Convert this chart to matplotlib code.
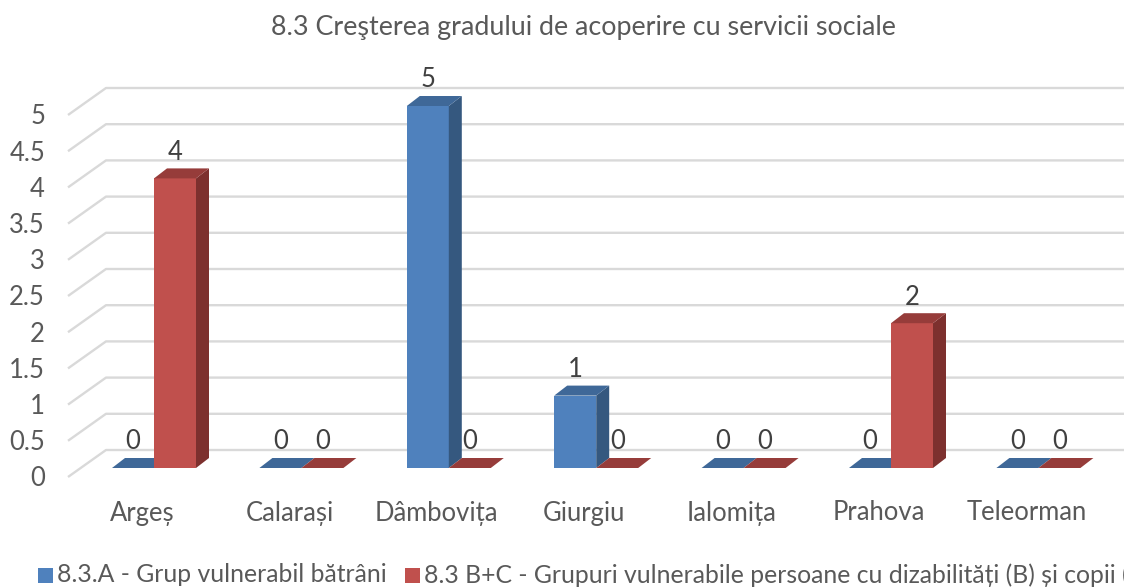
import matplotlib
matplotlib.use("Agg")
import matplotlib.pyplot as plt
from matplotlib.patches import Polygon, Rectangle

# ---------------- data ----------------
categories = ["Argeș", "Calarași", "Dâmbovița", "Giurgiu", "Ialomița", "Prahova", "Teleorman"]
series_a = [0, 0, 5, 1, 0, 0, 0]
series_bc = [4, 0, 0, 0, 0, 2, 0]
series_names = ["8.3.A - Grup vulnerabil bătrâni",
                "8.3 B+C - Grupuri vulnerabile persoane cu dizabilități (B) și copii (C)"]
yticks = [0, 0.5, 1, 1.5, 2, 2.5, 3, 3.5, 4, 4.5, 5]
ytick_labels = ["0", "0.5", "1", "1.5", "2", "2.5", "3", "3.5", "4", "4.5", "5"]
title = "8.3 Creşterea gradului de acoperire cu servicii sociale"

# ---------------- style ----------------
plt.rcParams['font.family'] = ['Lato', 'DejaVu Sans']
TXT = "#595959"
GRID = "#D9D9D9"
colors_front = ["#4F81BD", "#C0504D"]
colors_top = ["#3F6898", "#963C3A"]
colors_side = ["#35587F", "#7D302E"]

W, H = 1124, 588
fig = plt.figure(figsize=(W / 100, H / 100), dpi=100)
ax = fig.add_axes([0, 0, 1, 1])

# pixel-calibrated scales
X_ORG, X_STEP = 154, 147.4
Y_ORG, Y_STEP = 468, 72.4
ax.set_xlim((0 - X_ORG) / X_STEP, (W - X_ORG) / X_STEP)
ax.set_ylim((Y_ORG - H) / Y_STEP, Y_ORG / Y_STEP)
ax.axis("off")

bar_w = 42 / X_STEP
dx = 13 / X_STEP
dy = 10 / Y_STEP
wall_front_x = (68 - X_ORG) / X_STEP
wall_back_x = (106 - X_ORG) / X_STEP
front_off = -9 / Y_STEP
back_off = 18 / Y_STEP
x_right = (W - X_ORG) / X_STEP

# gridlines (side wall diagonal + back wall)
for t in yticks:
    ax.plot([wall_front_x, wall_back_x, x_right],
            [t + front_off, t + back_off, t + back_off],
            color=GRID, lw=1.7, solid_capstyle="butt", zorder=1)

fig.canvas.draw()
renderer = fig.canvas.get_renderer()

# title fitted to width
tt = fig.text(583 / W, 1 - 27 / H, title, ha="center", va="center", color=TXT, fontsize=16)
bb = tt.get_window_extent(renderer)
base = 16 * 630 / bb.width
tt.set_fontsize(base)

z = 2
for i in range(len(categories)):
    for s, vals in enumerate([series_a, series_bc]):
        h = vals[i]
        x0 = i - bar_w if s == 0 else i
        ax.bar(x0, h, width=bar_w, bottom=0, align="edge",
               color=colors_front[s], linewidth=0, zorder=z)
        top = Polygon([(x0, h), (x0 + bar_w, h), (x0 + bar_w + dx, h + dy), (x0 + dx, h + dy)],
                      closed=True, facecolor=colors_top[s], edgecolor="none", zorder=z)
        side = Polygon([(x0 + bar_w, 0), (x0 + bar_w + dx, dy), (x0 + bar_w + dx, h + dy), (x0 + bar_w, h)],
                       closed=True, facecolor=colors_side[s], edgecolor="none", zorder=z)
        ax.add_patch(side)
        ax.add_patch(top)
        ax.text(x0 + bar_w / 2, h + 0.36, f"{h:g}", ha="center", va="center",
                color="#404040", fontsize=base * 0.95, zorder=50)
        z += 1

# y tick labels
for t, lab in zip(yticks, ytick_labels):
    ax.text((45 - X_ORG) / X_STEP, t - 0.15, lab, ha="right", va="center",
            color=TXT, fontsize=base * 0.95)

# category labels
for i, c in enumerate(categories):
    ax.text(i - 12 / X_STEP, (Y_ORG - 513) / Y_STEP, c, ha="center", va="center",
            color=TXT, fontsize=base * 0.95)

# legend
ly = 575
sq = 15
x = 38
for s, name in enumerate(series_names):
    fig.patches.append(Rectangle((x / W, 1 - (ly + sq / 2) / H), sq / W, sq / H,
                                 transform=fig.transFigure, facecolor=colors_front[s],
                                 edgecolor="none"))
    txt = fig.text((x + sq + 4) / W, 1 - ly / H, name, ha="left", va="center",
                   color=TXT, fontsize=base * 0.92)
    tb = txt.get_window_extent(renderer)
    x = tb.x1 + 18

fig.savefig("out.png", dpi=100)
